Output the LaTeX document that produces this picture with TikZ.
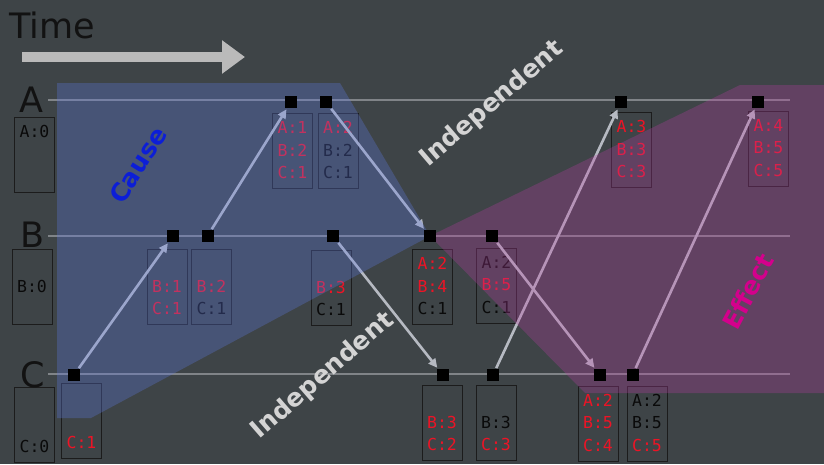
\documentclass[tikz,border=0pt]{standalone}
\usepackage{fontspec}
\setmainfont{DejaVu Sans}
\newfontfamily\boxmono{DejaVu Sans Mono}
\usetikzlibrary{arrows.meta}
\definecolor{bgcol}{RGB}{62,68,71}
\definecolor{linegray}{RGB}{128,132,136}
\definecolor{arrcol}{RGB}{182,186,194}
\definecolor{timearr}{RGB}{186,186,186}
\definecolor{labcol}{RGB}{18,18,18}
\definecolor{tred}{RGB}{236,20,38}
\definecolor{tblk}{RGB}{10,10,10}
\definecolor{boxline}{RGB}{28,28,28}
\definecolor{causefill}{RGB}{95,121,228}
\definecolor{effectfill}{RGB}{182,61,161}
\definecolor{causetxt}{RGB}{12,30,215}
\definecolor{effecttxt}{RGB}{212,0,140}
\definecolor{indeptxt}{RGB}{212,212,212}
\newcommand\redt[1]{\textcolor{tred}{#1}}
\newcommand\blkt[1]{\textcolor{tblk}{#1}}
\tikzset{
  timeline/.style={draw=linegray, line width=1.3pt},
  evsq/.style={fill=black, minimum size=12pt, inner sep=0pt, outer sep=0pt},
  evbox/.style={draw=boxline, line width=1pt, minimum width=40pt, minimum height=75pt, inner sep=0pt},
  evtxt/.style={inner sep=0pt, font=\boxmono\fontsize{16.5}{18}\selectfont},
  evarr/.style={draw=arrcol, line width=2.6pt, shorten >=1.5pt, shorten <=1pt, -{Triangle[length=9pt,width=8.5pt]}},
  rowlab/.style={anchor=base, inner sep=0pt, text=labcol, font=\fontsize{35}{40}\selectfont},
  region/.style={fill opacity=0.3},
  bigword/.style={inner sep=0pt, font=\bfseries\fontsize{25}{30}\selectfont}
}
\newcommand\evb[6]{%
  \node[evbox, anchor=north] (#1) at (#2,#3) {};
  \node[evtxt] (#1a) at ([yshift=-14pt]#1.north) {#4};
  \node[evtxt] (#1b) at ([yshift=-37pt]#1.north) {#5};
  \node[evtxt] (#1c) at ([yshift=-59pt]#1.north) {#6};
}
\begin{document}
\begin{tikzpicture}[x=1pt,y=-1pt]
\useasboundingbox (0,0) rectangle (824,464);
\fill[bgcol] (0,0) rectangle (824,464);

% process lines
\coordinate (la0) at (48,100); \coordinate (la1) at (790,100);
\coordinate (lb0) at (48,236); \coordinate (lb1) at (790,236);
\coordinate (lc0) at (48,374); \coordinate (lc1) at (790,374);
\draw[timeline] (la0) -- (la1);
\draw[timeline] (lb0) -- (lb1);
\draw[timeline] (lc0) -- (lc1);

% state boxes
\evb{bA0}{34.5}{117}{\blkt{A:0}}{}{}
\evb{bB0}{32}{249}{}{\blkt{B:0}}{}
\evb{bC0}{34.5}{387}{}{}{\blkt{C:0}}
\evb{bC1}{81.5}{383}{}{}{\redt{C:1}}
\evb{bB1}{167}{249}{}{\redt{B:1}}{\redt{C:1}}
\evb{bB2}{211.5}{249}{}{\redt{B:2}}{\blkt{C:1}}
\evb{bA1}{292.5}{113}{\redt{A:1}}{\redt{B:2}}{\redt{C:1}}
\evb{bA2}{338}{113}{\redt{A:2}}{\blkt{B:2}}{\blkt{C:1}}
\evb{bB3}{331}{250}{}{\redt{B:3}}{\blkt{C:1}}
\evb{bB4}{432.5}{249}{\redt{A:2}}{\redt{B:4}}{\blkt{C:1}}
\evb{bB5}{496.5}{248}{\blkt{A:2}}{\redt{B:5}}{\blkt{C:1}}
\evb{bC2}{442}{385}{}{\redt{B:3}}{\redt{C:2}}
\evb{bC3}{496}{385}{}{\blkt{B:3}}{\redt{C:3}}
\evb{bC4}{598}{386}{\redt{A:2}}{\redt{B:5}}{\redt{C:4}}
\evb{bC5}{647}{386}{\blkt{A:2}}{\blkt{B:5}}{\redt{C:5}}
\evb{bA3}{631.5}{112}{\redt{A:3}}{\redt{B:3}}{\redt{C:3}}
\evb{bA4}{768.5}{111}{\redt{A:4}}{\redt{B:5}}{\redt{C:5}}

% event squares (positions)
\node[evsq] (sA1) at (291,102) {};
\node[evsq] (sA2) at (326,102) {};
\node[evsq] (sA3) at (621,102) {};
\node[evsq] (sA4) at (758,102) {};
\node[evsq] (sB1) at (173,236) {};
\node[evsq] (sB2) at (207.5,236) {};
\node[evsq] (sB3) at (333,236) {};
\node[evsq] (sB4) at (429.5,236) {};
\node[evsq] (sB5) at (492,236) {};
\node[evsq] (sC1) at (74,375) {};
\node[evsq] (sC2) at (443,375) {};
\node[evsq] (sC3) at (493,375) {};
\node[evsq] (sC4) at (600,375) {};
\node[evsq] (sC5) at (632.5,375) {};

% messages
\draw[evarr] (sC1) -- (sB1);
\draw[evarr] (sB2) -- (sA1);
\draw[evarr] (sA2) -- (sB4);
\draw[evarr] (sB3) -- (sC2);
\draw[evarr] (sC3) -- (sA3);
\draw[evarr] (sB5) -- (sC4);
\draw[evarr] (sC5) -- (sA4);

% cones
\fill[causefill, region] (57,83) -- (340,83) -- (430,236) -- (91,418) -- (57,418) -- cycle;
\fill[effectfill, region] (430,236) -- (740,85) -- (824,85) -- (824,393) -- (585,393) -- cycle;

% squares on top
\foreach \s/\p in {A1/{(291,102)},A2/{(326,102)},A3/{(621,102)},A4/{(758,102)},B1/{(173,236)},B2/{(207.5,236)},B3/{(333,236)},B4/{(429.5,236)},B5/{(492,236)},C1/{(74,375)},C2/{(443,375)},C3/{(493,375)},C4/{(600,375)},C5/{(632.5,375)}}
  \node[evsq] (t\s) at \p {};

% region labels
\node[bigword, rotate=58, text=causetxt] (cause) at (138,165) {Cause};
\node[bigword, rotate=62, text=effecttxt] (effect) at (748,291) {Effect};
\node[bigword, rotate=40.5, text=indeptxt] (indep1) at (492,104) {Independent};
\node[bigword, rotate=41, text=indeptxt] (indep2) at (323,376) {Independent};

% row labels
\node[rowlab] (labA) at (31.5,112) {A};
\node[rowlab] (labB) at (32.5,247) {B};
\node[rowlab] (labC) at (32.5,387) {C};

% time
\node[anchor=base west, inner sep=0pt, text=labcol, font=\fontsize{35}{40}\selectfont] (time) at (9,38) {Time};
\coordinate (ts) at (22,57);
\coordinate (te) at (245,57);
\draw[draw=timearr, line width=10pt, -{Triangle[length=23pt,width=32pt]}] (ts) -- (te);
\end{tikzpicture}
\end{document}
